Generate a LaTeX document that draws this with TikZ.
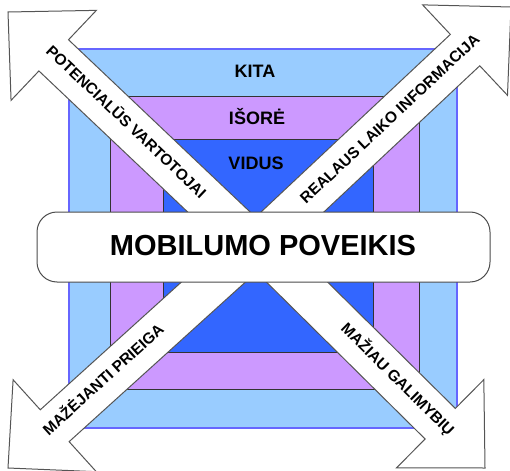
\documentclass[tikz,border=0pt]{standalone}
\usepackage{fontspec}
\setmainfont{Liberation Sans}
\usetikzlibrary{calc}

\definecolor{outerblue}{HTML}{99CCFF}
\definecolor{outeredge}{HTML}{6666FF}
\definecolor{midpurple}{HTML}{CC99FF}
\definecolor{innerblue}{HTML}{3366FF}
\definecolor{arrowedge}{HTML}{555555}

\begin{document}
\begin{tikzpicture}[x=1pt,y=-1pt,
  arrowshape/.style={fill=white,draw=arrowedge,line width=1pt,line join=miter},
  levelbox/.style={draw=black!80,line width=0.8pt},
  leveltext/.style={font=\fontsize{18}{18}\selectfont\bfseries,anchor=base,inner sep=0pt},
  arrowtext/.style={font=\fontsize{15.5}{15.5}\selectfont\bfseries,inner sep=0pt,
    text height=0.72em,text depth=0pt,anchor=center},
  mainbox/.style={draw=black!70,line width=1pt,fill=white,rounded corners=20pt}]
\useasboundingbox (0,0) rectangle (510,470);

% nested levels
\draw[fill=outerblue,draw=outeredge,line width=1.2pt] (69,49) rectangle (457,428);
\draw[levelbox,fill=midpurple] (110,96) rectangle (419,389);
\draw[levelbox,fill=innerblue] (163,139) rectangle (373,352);

\node[leveltext] (kita) at (255,78) {KITA};
\node[leveltext] (isore) at (257,125) {IŠORĖ};
\node[leveltext] (vidus) at (256,170) {VIDUS};

% arrow axes: start points inside the central box, tips at the corners
\coordinate (ulS) at (240,232);     \coordinate (ulT) at (8,12);
\coordinate (urS) at (270.6,232.5); \coordinate (urT) at (511,7);
\coordinate (llS) at (235.8,261.8); \coordinate (llT) at (8,468);
\coordinate (lrS) at (273.6,258.9); \coordinate (lrT) at (485,468);

% fat block arrows: shaft half-width 21.5, head 63 long and 124 wide
\foreach \s/\t in {ulS/ulT,urS/urT,llS/llT,lrS/lrT}{
  \coordinate (hb) at ($(\t)!63pt!(\s)$);
  \draw[arrowshape]
    ($(\s)!21.5pt!90:(\t)$) --
    ($(hb)!21.5pt!90:(\t)$) --
    ($(hb)!62pt!90:(\t)$) --
    (\t) --
    ($(hb)!62pt!-90:(\t)$) --
    ($(hb)!21.5pt!-90:(\t)$) --
    ($(\s)!21.5pt!-90:(\t)$) -- cycle;
}

\node[arrowtext,rotate=-43.5] (ultext) at (125,123) {POTENCIALŪS VARTOTOJAI};
\node[arrowtext,rotate=43.2] (urtext) at (391,120) {REALAUS LAIKO INFORMACIJA};
\node[arrowtext,rotate=42.1] (lltext) at (104.5,381) {MAŽĖJANTI PRIEIGA};
\node[arrowtext,rotate=-44.7] (lrtext) at (396.5,380.5) {MAŽIAU GALIMYBIŲ};

% central box
\draw[mainbox] (37,212) rectangle (490,282);
\node[font=\fontsize{29}{29}\selectfont\bfseries,anchor=base,inner sep=0pt] (main)
  at (263,255) {MOBILUMO POVEIKIS};
\end{tikzpicture}
\end{document}
